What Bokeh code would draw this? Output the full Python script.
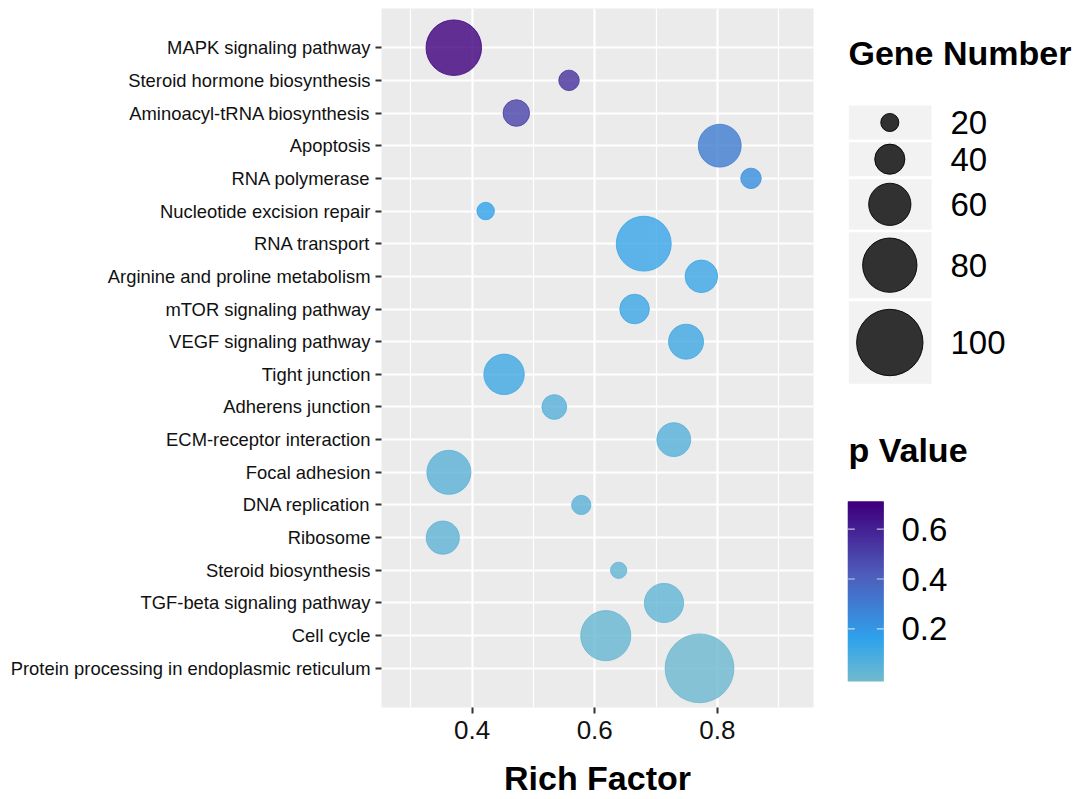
from bokeh.plotting import figure
from bokeh.models import FactorRange, Range1d, FixedTicker, ColumnDataSource
from bokeh.layouts import row
from bokeh.embed import file_html
from bokeh.resources import INLINE
from bokeh.core.properties import value

# ---------------- data ----------------
categories = [
    "MAPK signaling pathway",
    "Steroid hormone biosynthesis",
    "Aminoacyl-tRNA biosynthesis",
    "Apoptosis",
    "RNA polymerase",
    "Nucleotide excision repair",
    "RNA transport",
    "Arginine and proline metabolism",
    "mTOR signaling pathway",
    "VEGF signaling pathway",
    "Tight junction",
    "Adherens junction",
    "ECM-receptor interaction",
    "Focal adhesion",
    "DNA replication",
    "Ribosome",
    "Steroid biosynthesis",
    "TGF-beta signaling pathway",
    "Cell cycle",
    "Protein processing in endoplasmic reticulum",
]
rich_factor = [0.370, 0.558, 0.472, 0.804, 0.855, 0.422, 0.680, 0.774, 0.665, 0.749,
               0.452, 0.534, 0.729, 0.362, 0.578, 0.352, 0.639, 0.713, 0.618, 0.771]
gene_number = [82, 24, 34, 61, 24, 19, 81, 44, 39, 48,
               57, 31, 46, 63, 22, 45, 17, 55, 73, 104]
p_value = [0.70, 0.55, 0.50, 0.30, 0.23, 0.16, 0.14, 0.13, 0.13, 0.12,
           0.12, 0.06, 0.06, 0.05, 0.05, 0.04, 0.03, 0.03, 0.02, 0.006]

x_ticks = [0.4, 0.6, 0.8]
x_minor_ticks = [0.3, 0.5, 0.7, 0.9]
size_legend_values = [20, 40, 60, 80, 100]
size_legend_labels = ["20", "40", "60", "80", "100"]
colorbar_ticks = [0.2, 0.4, 0.6]
colorbar_labels = ["0.2", "0.4", "0.6"]

# ---------------- styles ----------------
FONT = "Liberation Sans"
color_stops = [(0.0, "#6DB9CE"), (0.16, "#2FA2EC"), (0.42, "#4E5CBA"), (0.70, "#3F007D")]


def hex2rgb(h):
    h = h.lstrip("#")
    return tuple(int(h[i:i + 2], 16) for i in (0, 2, 4))


def color_at(v):
    if v <= color_stops[0][0]:
        return color_stops[0][1]
    if v >= color_stops[-1][0]:
        return color_stops[-1][1]
    for (v0, c0), (v1, c1) in zip(color_stops[:-1], color_stops[1:]):
        if v0 <= v <= v1:
            t = (v - v0) / (v1 - v0)
            a, b = hex2rgb(c0), hex2rgb(c1)
            r = [round(a[k] + (b[k] - a[k]) * t) for k in range(3)]
            return "#%02x%02x%02x" % tuple(r)


def diameter(n):
    return 6.0 + 0.604 * n


src = ColumnDataSource(dict(
    x=rich_factor,
    y=categories,
    size=[diameter(g) for g in gene_number],
    color=[color_at(v) for v in p_value],
))

FIG_H = 799
TOP_B, BOT_B = 8, 92

# ---------------- main plot ----------------
p = figure(
    width=830, height=FIG_H,
    x_range=Range1d(0.252, 0.957),
    y_range=FactorRange(factors=categories[::-1], range_padding=0.7,
                        range_padding_units="absolute"),
    output_backend="svg", toolbar_location=None,
    min_border_left=381, min_border_right=17, min_border_top=TOP_B, min_border_bottom=BOT_B,
)
p.background_fill_color = "#EBEBEB"
p.border_fill_color = "white"
p.outline_line_color = None

p.xaxis.ticker = FixedTicker(ticks=x_ticks, minor_ticks=x_minor_ticks)
p.xgrid.grid_line_color = "white"
p.xgrid.grid_line_width = 2.2
p.xgrid.minor_grid_line_color = "white"
p.xgrid.minor_grid_line_width = 1.2
p.ygrid.grid_line_color = "white"
p.ygrid.grid_line_width = 2.2

for ax in (p.xaxis, p.yaxis):
    ax.axis_line_color = None
    ax.major_tick_line_color = "#333333"
    ax.major_tick_line_width = 2
    ax.major_tick_out = 6
    ax.major_tick_in = 0
    ax.minor_tick_out = 0
    ax.minor_tick_in = 0
    ax.major_label_text_font = FONT
    ax.major_label_text_color = "#111111"

p.xaxis.major_label_text_font_size = "26px"
p.xaxis.major_label_standoff = 7
p.yaxis.major_label_text_font_size = "18.4px"
p.yaxis.major_label_standoff = 5

p.xaxis.axis_label = "Rich Factor"
p.xaxis.axis_label_text_font = FONT
p.xaxis.axis_label_text_font_size = "34px"
p.xaxis.axis_label_text_font_style = "bold"
p.xaxis.axis_label_text_color = "black"
p.xaxis.axis_label_standoff = 17

p.scatter(x="x", y="y", size="size", source=src, marker="circle",
          fill_color="color", fill_alpha=0.8,
          line_color="color", line_alpha=0.8, line_width=1)

# ---------------- legends (pixel space of the page) ----------------
LG_X0, LG_X1 = 830, 1075
lg = figure(
    width=LG_X1 - LG_X0, height=FIG_H,
    x_range=Range1d(LG_X0, LG_X1), y_range=Range1d(FIG_H - BOT_B, TOP_B),
    x_axis_type=None, y_axis_type=None,
    output_backend="svg", toolbar_location=None,
    min_border_left=0, min_border_right=0, min_border_top=TOP_B, min_border_bottom=BOT_B,
)
lg.grid.visible = False
lg.outline_line_color = None
lg.background_fill_color = "white"
lg.border_fill_color = "white"

# size legend
KEY_L, KEY_R = 848.3, 931.0
key_tops = [105.0, 141.7, 178.7, 231.7, 300.7]
key_bots = [139.0, 175.7, 229.0, 297.7, 383.3]
key_cx = 889.3
key_cy = [(a + b) / 2 for a, b in zip(key_tops, key_bots)]
lg.quad(left=KEY_L, right=KEY_R, top=key_tops, bottom=key_bots,
        fill_color="#F2F2F2", line_color=None)
lg.scatter(x=[key_cx] * len(size_legend_values), y=key_cy,
           size=[diameter(v) for v in size_legend_values], marker="circle",
           fill_color="black", fill_alpha=0.8, line_color="black", line_alpha=0.9, line_width=1)
lg.text(x=[950] * len(size_legend_labels), y=key_cy, text=size_legend_labels,
        text_font=value(FONT), text_font_size="33px", text_baseline="middle",
        text_align="left", text_color="black")
lg.text(x=[848], y=[52], text=["Gene Number"], text_font=value(FONT),
        text_font_size="34px", text_font_style="bold", text_baseline="middle",
        text_color="black")

# colour bar
CB_L, CB_R = 847.3, 883.3
CB_TOP, CB_BOT = 500.7, 681.0
CB_Y_AT_02, CB_PX_PER_UNIT = 628.3, 249.0


def cb_y(v):
    return CB_Y_AT_02 - (v - 0.2) * CB_PX_PER_UNIT


n_slices = 90
h = (CB_BOT - CB_TOP) / n_slices
tops = [CB_TOP + i * h for i in range(n_slices)]
bots = [min(t + h + 1.0, CB_BOT) for t in tops]
vals = [0.2 - ((t + h / 2) - CB_Y_AT_02) / CB_PX_PER_UNIT for t in tops]
lg.quad(left=CB_L, right=CB_R, top=tops, bottom=bots,
        fill_color=[color_at(v) for v in vals], line_color=None)
ty = [cb_y(v) for v in colorbar_ticks]
lg.segment(x0=[CB_L] * 3, x1=[CB_L + 7] * 3, y0=ty, y1=ty, line_color="white",
           line_alpha=0.7, line_width=1.2)
lg.segment(x0=[CB_R - 7] * 3, x1=[CB_R] * 3, y0=ty, y1=ty, line_color="white",
           line_alpha=0.7, line_width=1.2)
lg.text(x=[901] * 3, y=ty, text=colorbar_labels, text_font=value(FONT),
        text_font_size="33px", text_baseline="middle", text_align="left",
        text_color="black")
lg.text(x=[848], y=[449], text=["p Value"], text_font=value(FONT),
        text_font_size="34px", text_font_style="bold", text_baseline="middle",
        text_color="black")

layout = row(p, lg)
open("out.html", "w").write(file_html(layout, INLINE))
